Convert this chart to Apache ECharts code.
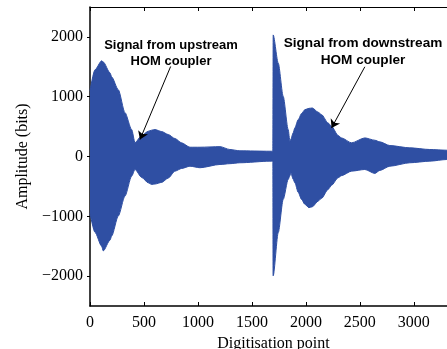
<!DOCTYPE html>
<html>
<head>
<meta charset="UTF-8">
<title>HOM signal</title>
<script src="https://cdn.jsdelivr.net/npm/echarts@6/dist/echarts.min.js"></script>
<style>
  html, body { margin: 0; padding: 0; background: #fff; }
  #chart { width: 447px; height: 349px; }
</style>
</head>
<body>
<div id="chart"></div>
<script>
// envelope of the digitised signal
var samplePoint = [0, 46, 108, 123, 185, 201, 262, 324, 386, 417, 479, 540, 571, 602, 664, 725, 787, 849, 926, 1019, 1204, 1296, 1389, 1667, 1694,
                   1697, 1744, 1790, 1836, 1852, 1861, 1882, 1898, 1929, 1960, 1991, 2028, 2060, 2114, 2145, 2206, 2238, 2299, 2330, 2423, 2546, 2639, 2685, 2778, 2963, 3148, 3306, 3400];
var upperEnv = [1100, 1450, 1600, 1580, 1400, 1330, 1117, 733, 450, 233, 350, 422, 440, 450, 417, 367, 300, 228, 155, 155, 165, 117, 95, 88, 88,
                2033, 1561, 1005, 450, 255, 290, 395, 480, 617, 720, 783, 805, 811, 740, 700, 560, 505, 350, 311, 228, 311, 272, 245, 183, 145, 117, 105, 100];
var lowerEnv = [-950, -1267, -1500, -1578, -1400, -1328, -995, -662, -328, -217, -350, -440, -467, -460, -433, -360, -245, -200, -162, -188, -133, -120, -105, -78, -78,
                -1995, -1272, -717, -383, -320, -272, -380, -439, -600, -717, -800, -855, -840, -745, -700, -550, -480, -355, -320, -245, -217, -283, -233, -162, -105, -78, -50, -45];

var xTicks = [0, 500, 1000, 1500, 2000, 2500, 3000];
var yTicks = [-2000, -1000, 0, 1000, 2000];

var arrows = [
  [[747, 1505], [463, 283]],
  [[2546, 1500], [2238, 478]]
];

var chart = echarts.init(document.getElementById('chart'));

var upperData = [], lowerData = [];
for (var i = 0; i < samplePoint.length; i++) {
  upperData.push([samplePoint[i], upperEnv[i]]);
  lowerData.push([samplePoint[i], lowerEnv[i]]);
}

var blue = '#2f4fa3';
var serif = '"Liberation Serif", "DejaVu Serif", serif';
var sans = '"Liberation Sans", Arial, sans-serif';

function plain(v) { return String(v).replace('-', '\u2212'); }

var option = {
  animation: false,
  grid: { left: 90, top: 7, right: -10, bottom: 43, outerBoundsMode: 'none', containLabel: false },
  xAxis: [{
    type: 'value', min: 0, max: 3400,
    name: 'Digitisation point', nameLocation: 'middle', nameGap: 24,
    nameTextStyle: { fontFamily: serif, fontSize: 16, color: '#000' },
    axisLine: { show: true, onZero: false, lineStyle: { color: '#000', width: 1.5 } },
    axisTick: { show: true, inside: true, length: 4, customValues: xTicks, lineStyle: { color: '#000' } },
    axisLabel: { customValues: xTicks, margin: 9, fontFamily: serif, fontSize: 16, color: '#000', formatter: plain },
    splitLine: { show: false }
  }, {
    type: 'value', min: 0, max: 3400, position: 'top',
    axisLine: { show: true, onZero: false, lineStyle: { color: '#000', width: 1 } },
    axisTick: { show: true, inside: true, length: 4, customValues: xTicks, lineStyle: { color: '#000' } },
    axisLabel: { show: false },
    splitLine: { show: false }
  }],
  yAxis: {
    type: 'value', min: -2500, max: 2500,
    name: 'Amplitude (bits)', nameLocation: 'middle', nameGap: 52,
    nameTextStyle: { fontFamily: serif, fontSize: 16, color: '#000' },
    axisLine: { show: true, onZero: false, lineStyle: { color: '#000', width: 1.5 } },
    axisTick: { show: true, length: 3, customValues: yTicks, lineStyle: { color: '#000' } },
    axisLabel: { customValues: yTicks, margin: 7, fontFamily: serif, fontSize: 16, color: '#000', formatter: plain },
    splitLine: { show: false }
  },
  series: [{
    // upper half, filled a little past zero so the halves overlap
    type: 'line', data: upperData, showSymbol: false, silent: true,
    smooth: 0.25, smoothMonotone: 'x',
    lineStyle: { color: blue, width: 1 },
    areaStyle: { color: blue, opacity: 1, origin: -40 }
  }, {
    type: 'line', data: lowerData, showSymbol: false, silent: true,
    smooth: 0.25, smoothMonotone: 'x',
    lineStyle: { color: blue, width: 1 },
    areaStyle: { color: blue, opacity: 1, origin: 40 },
    markLine: {
      silent: true, symbol: ['none', 'arrow'], symbolSize: 8,
      label: { show: false },
      lineStyle: { color: '#000', width: 1, type: 'solid' },
      data: arrows.map(function (a) {
        return [{ coord: a[0] }, { coord: a[1] }];
      })
    }
  }],
  graphic: [{
    type: 'text', x: 171, y: 37,
    style: {
      text: 'Signal from upstream\nHOM coupler', textAlign: 'center',
      font: 'bold 13px ' + sans, lineHeight: 16, fill: '#000'
    }
  }, {
    type: 'text', x: 363, y: 35,
    style: {
      text: 'Signal from downstream\nHOM coupler', textAlign: 'center',
      font: 'bold 13.6px ' + sans, lineHeight: 16.5, fill: '#000'
    }
  }]
};

chart.setOption(option);
</script>
</body>
</html>
